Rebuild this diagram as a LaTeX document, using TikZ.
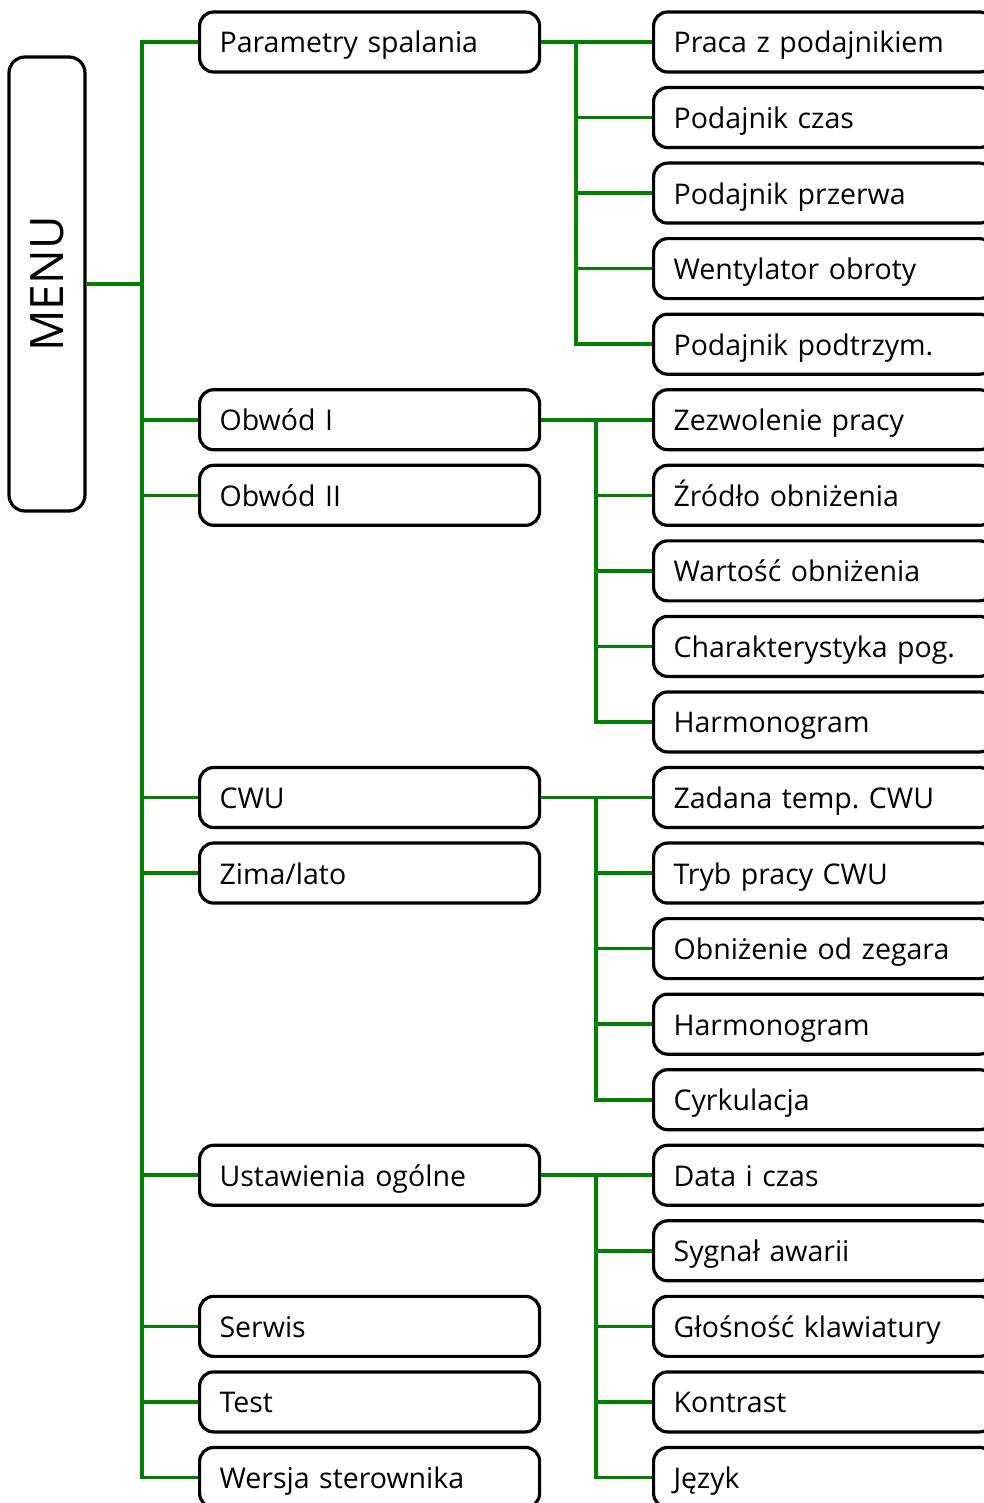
\documentclass[tikz,border=0pt]{standalone}
\usepackage{fontspec}
\setmainfont{Open Sans}
\frenchspacing
\definecolor{lgreen}{RGB}{0,128,0}
\begin{document}
\begin{tikzpicture}[x=1pt,y=-1pt,
  box/.style={draw=black,line width=3.2pt,rounded corners=14pt,minimum width=340pt,minimum height=60pt,
    anchor=west,inner xsep=20pt,inner ysep=0pt,text width=300pt,align=left,text height=26pt,text depth=4pt,
    font=\fontsize{28.5}{30}\selectfont},
  conn/.style={draw=lgreen,line width=3.6pt},
  menubox/.style={draw=black,line width=3.2pt,rounded corners=16pt,minimum width=454pt,minimum height=76pt,
    font=\fontsize{46}{48}\selectfont,rotate=90}]
\useasboundingbox (0,0) rectangle (984,1503);
\clip (0,0) rectangle (984,1503);
\node[menubox] (menu) at (47,284) {MENU};
% left column
\node[box] (L0) at (198,{42+75.55*0}) {Parametry spalania};
\node[box] (L5) at (198,{42+75.55*5}) {Obwód I};
\node[box] (L6) at (198,{42+75.55*6}) {Obwód II};
\node[box] (L10) at (198,{42+75.55*10}) {CWU};
\node[box] (L11) at (198,{42+75.55*11}) {Zima/lato};
\node[box] (L15) at (198,{42+75.55*15}) {Ustawienia ogólne};
\node[box] (L17) at (198,{42+75.55*17}) {Serwis};
\node[box] (L18) at (198,{42+75.55*18}) {Test};
\node[box] (L19) at (198,{42+75.55*19}) {Wersja sterownika};
% right column
\node[box] (R0) at (652,{42+75.55*0}) {Praca z podajnikiem};
\node[box] (R1) at (652,{42+75.55*1}) {Podajnik czas};
\node[box] (R2) at (652,{42+75.55*2}) {Podajnik przerwa};
\node[box] (R3) at (652,{42+75.55*3}) {Wentylator obroty};
\node[box] (R4) at (652,{42+75.55*4}) {Podajnik podtrzym.};
\node[box] (R5) at (652,{42+75.55*5}) {Zezwolenie pracy};
\node[box] (R6) at (652,{42+75.55*6}) {Źródło obniżenia};
\node[box] (R7) at (652,{42+75.55*7}) {Wartość obniżenia};
\node[box] (R8) at (652,{42+75.55*8}) {Charakterystyka pog.};
\node[box] (R9) at (652,{42+75.55*9}) {Harmonogram};
\node[box] (R10) at (652,{42+75.55*10}) {Zadana temp. CWU};
\node[box] (R11) at (652,{42+75.55*11}) {Tryb pracy CWU};
\node[box] (R12) at (652,{42+75.55*12}) {Obniżenie od zegara};
\node[box] (R13) at (652,{42+75.55*13}) {Harmonogram};
\node[box] (R14) at (652,{42+75.55*14}) {Cyrkulacja};
\node[box] (R15) at (652,{42+75.55*15}) {Data i czas};
\node[box] (R16) at (652,{42+75.55*16}) {Sygnał awarii};
\node[box] (R17) at (652,{42+75.55*17}) {Głośność klawiatury};
\node[box] (R18) at (652,{42+75.55*18}) {Kontrast};
\node[box] (R19) at (652,{42+75.55*19}) {Język};
% trunks
\coordinate (T) at (142,0);
\coordinate (SA) at (576,0);
\coordinate (SB) at (596,0);
\draw[conn] (menu.south -| T) -- (menu.south);
\draw[conn] (L0.west) -- (L0.west -| T) -- (L19.west -| T) -- (L19.west);
\foreach \n in {L5,L6,L10,L11,L15,L17,L18}{\draw[conn] (\n.west -| T) -- (\n.west);}
% sub trunks
\draw[conn] (L0.east) -- (R0.west);
\draw[conn] (R0.west -| SA) -- (R4.west -| SA) -- (R4.west);
\foreach \n in {R1,R2,R3}{\draw[conn] (\n.west -| SA) -- (\n.west);}
\draw[conn] (L5.east) -- (R5.west);
\draw[conn] (R5.west -| SB) -- (R9.west -| SB) -- (R9.west);
\foreach \n in {R6,R7,R8}{\draw[conn] (\n.west -| SB) -- (\n.west);}
\draw[conn] (L10.east) -- (R10.west);
\draw[conn] (R10.west -| SB) -- (R14.west -| SB) -- (R14.west);
\foreach \n in {R11,R12,R13}{\draw[conn] (\n.west -| SB) -- (\n.west);}
\draw[conn] (L15.east) -- (R15.west);
\draw[conn] (R15.west -| SB) -- (R19.west -| SB) -- (R19.west);
\foreach \n in {R16,R17,R18}{\draw[conn] (\n.west -| SB) -- (\n.west);}
\end{tikzpicture}
\end{document}
